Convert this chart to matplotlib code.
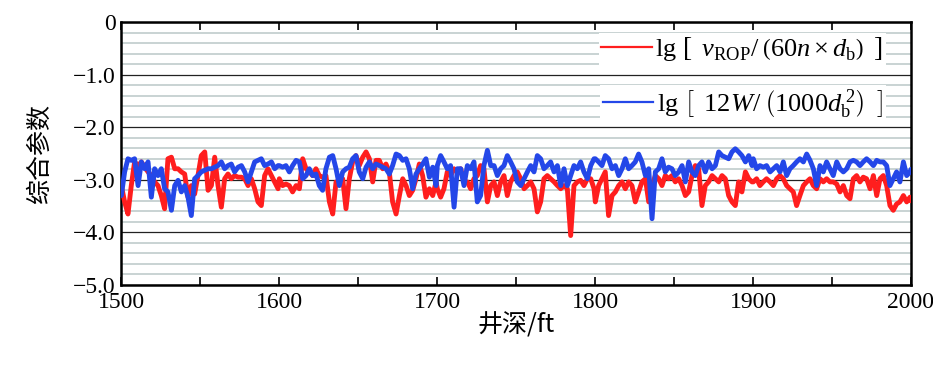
import matplotlib
matplotlib.use("Agg")
import matplotlib.pyplot as plt
from matplotlib.ticker import MultipleLocator, FuncFormatter
from matplotlib.lines import Line2D

plt.rcParams['font.family'] = ['Liberation Serif', 'Noto Sans CJK SC', 'DejaVu Sans']
plt.rcParams['mathtext.fontset'] = 'custom'
plt.rcParams['mathtext.rm'] = 'Liberation Serif'
plt.rcParams['mathtext.it'] = 'Liberation Serif:italic'

# depth sampling: segment starts and offsets within each 100 ft segment
segment_starts = [1500, 1600, 1700, 1800, 1900]
offsets = [0.2, 2.3, 4.4, 6.5, 8.6, 10.8, 12.9, 15.0, 17.1, 19.2, 21.3, 23.4,
           25.5, 27.6, 29.7, 31.9, 34.0, 36.1, 38.2, 40.3, 42.4, 44.5, 46.6, 48.7,
           50.8, 53.0, 55.1, 57.2, 59.3, 61.4, 63.5, 65.6, 67.7, 69.8, 71.9, 74.1,
           76.2, 78.3, 80.4, 82.5, 84.6, 86.7, 88.8, 90.9, 93.0, 95.2, 97.3, 99.4]
depth = [s + o for s in segment_starts for o in offsets] + [2000.0]

red_vals = [
    # 1500-1600
    -3.11, -3.42, -3.65, -3.11, -2.66, -2.73, -2.66, -2.76, -2.85, -2.92,
    -3.04, -3.11, -3.30, -3.55, -2.60, -2.57, -2.79, -2.79, -2.85, -2.89,
    -3.33, -3.11, -3.27, -2.92, -2.54, -2.47, -3.20, -3.11, -2.57, -3.11,
    -3.52, -2.98, -2.89, -2.98, -2.92, -2.95, -2.95, -2.98, -3.11, -2.98,
    -3.17, -3.42, -3.49, -2.92, -2.79, -2.92, -3.04, -3.17,
    # 1600-1700
    -2.98, -3.11, -3.08, -3.11, -3.23, -3.11, -3.17, -2.60, -2.79, -2.85,
    -2.92, -2.79, -2.92, -2.95, -2.92, -3.42, -3.65, -3.04, -3.04, -2.98,
    -3.55, -2.98, -2.66, -2.54, -2.73, -2.57, -2.47, -2.60, -3.04, -2.63,
    -2.63, -2.79, -2.70, -2.85, -3.42, -3.65, -3.30, -2.98, -3.11, -3.30,
    -3.20, -2.98, -2.70, -2.92, -3.33, -3.17, -3.30, -3.04,
    # 1700-1800
    -3.17, -3.33, -3.17, -2.85, -2.92, -2.79, -2.85, -2.79, -3.04, -3.04,
    -3.17, -2.98, -2.92, -2.73, -2.79, -3.42, -3.11, -3.04, -3.30, -3.04,
    -2.92, -3.30, -3.04, -2.92, -2.85, -2.98, -3.17, -3.11, -3.04, -3.17,
    -3.61, -3.42, -2.98, -2.92, -2.98, -3.04, -3.11, -3.17, -3.11, -3.17,
    -4.06, -3.11, -3.04, -3.01, -3.11, -2.98, -2.98, -3.17,
    # 1800-1900
    -3.42, -3.11, -2.98, -2.85, -3.68, -3.30, -3.23, -3.11, -3.04, -3.17,
    -3.04, -3.11, -3.42, -3.23, -3.04, -2.98, -3.42, -3.11, -2.92, -2.98,
    -3.11, -2.92, -2.98, -2.92, -3.04, -2.98, -3.11, -3.30, -3.23, -2.92,
    -2.73, -2.79, -3.49, -3.11, -3.04, -2.92, -2.98, -3.04, -2.92, -2.98,
    -3.30, -3.42, -3.49, -3.04, -3.23, -2.85, -2.98, -3.04,
    # 1900-2000
    -3.04, -2.98, -3.11, -3.04, -2.98, -3.04, -3.11, -2.98, -2.92, -2.98,
    -3.11, -3.17, -3.23, -3.49, -3.30, -3.11, -3.04, -2.98, -3.11, -3.17,
    -2.98, -3.04, -2.98, -3.04, -3.04, -3.08, -3.23, -3.11, -3.30, -3.36,
    -2.98, -2.92, -3.04, -2.95, -2.98, -3.17, -2.92, -3.30, -2.98, -2.92,
    -3.11, -3.49, -3.58, -3.46, -3.42, -3.30, -3.42, -3.33,
    -3.40,
]

blue_vals = [
    # 1500-1600
    -3.30, -2.85, -2.60, -2.63, -2.60, -3.11, -2.66, -2.79, -2.66, -3.33,
    -2.79, -2.92, -2.79, -3.17, -3.23, -3.58, -3.11, -3.01, -3.23, -3.11,
    -3.33, -3.68, -2.98, -2.92, -2.85, -2.82, -2.79, -2.79, -2.76, -2.73,
    -2.66, -2.79, -2.73, -2.70, -2.85, -2.76, -2.73, -2.85, -3.04, -2.85,
    -2.66, -2.63, -2.60, -2.73, -2.70, -2.66, -2.79, -2.73,
    # 1600-1700
    -2.73, -2.76, -2.73, -2.85, -2.73, -2.63, -2.66, -2.98, -2.92, -2.79,
    -2.92, -2.89, -3.11, -3.20, -2.79, -2.57, -2.54, -2.79, -3.11, -2.85,
    -2.79, -2.76, -2.60, -2.54, -2.85, -2.98, -2.76, -2.66, -2.79, -2.70,
    -2.73, -2.76, -2.79, -2.89, -2.73, -2.51, -2.54, -2.63, -2.60, -2.79,
    -3.17, -2.89, -2.79, -2.70, -2.60, -2.95, -2.76, -3.11,
    # 1700-1800
    -2.73, -2.54, -2.66, -2.79, -2.73, -3.52, -2.79, -2.79, -3.11, -2.73,
    -2.79, -2.66, -3.42, -3.30, -2.73, -2.44, -2.73, -2.73, -2.92, -2.79,
    -2.73, -2.54, -2.66, -2.79, -3.04, -3.11, -2.98, -2.85, -2.73, -2.85,
    -2.54, -2.60, -2.79, -2.73, -2.66, -2.85, -2.73, -3.11, -2.79, -3.11,
    -2.92, -2.73, -2.79, -2.66, -2.85, -2.98, -2.73, -2.60,
    # 1800-1900
    -2.60, -2.66, -2.73, -2.54, -2.60, -2.79, -2.73, -2.92, -2.79, -2.60,
    -2.79, -2.73, -2.66, -2.51, -2.66, -2.92, -2.79, -3.74, -2.85, -2.79,
    -2.60, -2.85, -2.76, -2.79, -2.92, -2.85, -2.73, -3.04, -2.66, -2.85,
    -2.92, -2.73, -2.66, -2.85, -2.66, -2.79, -2.73, -2.47, -2.54, -2.57,
    -2.60, -2.47, -2.41, -2.47, -2.54, -2.66, -2.54, -2.73,
    # 1900-2000
    -2.60, -2.79, -2.73, -2.76, -2.73, -2.85, -2.79, -2.73, -2.85, -2.66,
    -2.92, -2.79, -2.73, -2.66, -2.60, -2.66, -2.51, -2.63, -2.79, -3.11,
    -2.73, -2.85, -2.66, -2.79, -2.92, -2.66, -2.79, -2.85, -2.79, -2.66,
    -2.63, -2.66, -2.73, -2.66, -2.60, -2.66, -2.73, -2.63, -2.66, -2.66,
    -2.73, -3.11, -2.98, -2.85, -3.04, -2.66, -2.92, -2.85,
    -2.80,
]

red_label = r'lg $\left[\;\;v_{\rm ROP}/\;\left(60n\times d_{\rm b}\right)\;\;\right]$'
blue_label = r'lg $\left[\;\;12W/\;\left(1000d_{\rm b}^{\;2}\right)\;\;\right]$'
x_label = '井深/ft'
y_label = '综合参数'
red_color = '#FF1E1E'
blue_color = '#2447E8'

fig = plt.figure(figsize=(9.33, 3.71), dpi=100)
ax = fig.add_axes([0.1297, 0.2318, 0.8467, 0.7089])

ax.plot(depth, red_vals, color=red_color, lw=3.5, zorder=3,
        solid_joinstyle='round', solid_capstyle='round')
ax.plot(depth, blue_vals, color=blue_color, lw=3.5, zorder=4,
        solid_joinstyle='round', solid_capstyle='round')

ax.set_xlim(1500, 2000)
ax.set_ylim(-5.0, 0.0)
ax.xaxis.set_major_locator(MultipleLocator(100))
ax.xaxis.set_minor_locator(MultipleLocator(50))
ax.yaxis.set_major_locator(MultipleLocator(1.0))
ax.yaxis.set_minor_locator(MultipleLocator(0.2))
ax.yaxis.set_major_formatter(FuncFormatter(
    lambda v, p: '0' if abs(v) < 1e-9 else ('%.1f' % v).replace('-', '\u2212')))

ax.grid(which='minor', axis='y', color='#C9D3D3', lw=1.4, zorder=0)
ax.grid(which='major', axis='y', color='#222222', lw=0.9, zorder=1)
ax.set_axisbelow(True)

ax.tick_params(axis='x', which='both', direction='in', top=True, length=6, width=1.2,
               labelsize=17, pad=5)
ax.tick_params(axis='y', which='both', length=0, labelsize=17, pad=4)
for s in ax.spines.values():
    s.set_linewidth(1.8)
    s.set_color('black')

ax.set_xlabel(x_label, fontsize=18, family=['Noto Sans CJK SC', 'DejaVu Sans'], labelpad=0)
ax.set_ylabel(y_label, fontsize=18, family=['Noto Sans CJK SC', 'DejaVu Sans'], labelpad=14)

h1 = Line2D([], [], color=red_color, lw=1.6)
h2 = Line2D([], [], color=blue_color, lw=1.6)
leg_kw = dict(frameon=True, fancybox=False, facecolor='white', edgecolor='none', framealpha=1.0,
              handlelength=1.9, handletextpad=0.15, borderpad=0.1, borderaxespad=0.0,
              prop={'size': 19, 'family': ['Liberation Serif', 'Noto Sans CJK SC']})
leg1 = ax.legend([h1], [red_label], loc='upper right', bbox_to_anchor=(0.968, 0.96), **leg_kw)
ax.add_artist(leg1)
leg2 = ax.legend([h2], [blue_label], loc='upper right', bbox_to_anchor=(0.968, 0.762), **leg_kw)
leg1.set_zorder(10)
leg2.set_zorder(10)

fig.savefig('out.png', dpi=100)
